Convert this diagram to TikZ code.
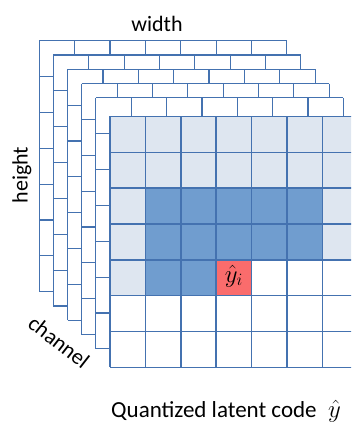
\documentclass[tikz,border=0pt]{standalone}
\usepackage{fontspec}
\setmainfont{Carlito}
\usepackage{xcolor}

\definecolor{gridline}{RGB}{68,114,176}
\definecolor{ctxlight}{RGB}{222,230,240}
\definecolor{ctxdark}{RGB}{112,157,207}
\definecolor{curcell}{RGB}{250,108,108}

\begin{document}
\begin{tikzpicture}[x=1pt,y=-1pt,
  backlayer/.style={draw=gridline,line width=1.1pt},
  frontlayer/.style={draw=gridline,line width=1.5pt},
  lbl/.style={font=\fontsize{22}{26}\selectfont,inner sep=0pt},
  symlbl/.style={font=\fontsize{25}{30}\selectfont,inner sep=0pt}]
  \useasboundingbox (0,0) rectangle (351,422);
  \clip (0,0) rectangle (351,422);
  % channel slices behind the front one
  \foreach \k in {0,...,4} {
    \begin{scope}[shift={(39.3+14.15*\k,40.7+14.3*\k)},x=35.35pt,y=-35.85pt]
      \fill[white] (0,0) rectangle (7,7);
      \foreach \i in {0,...,7} {
        \draw[backlayer] (\i,0) -- (\i,7);
        \draw[backlayer] (0,\i) -- (7,\i);
      }
    \end{scope}
  }
  % front slice with context and current symbol
  \begin{scope}[shift={(110,116.4)},x=35.4pt,y=-35.85pt]
    \fill[white] (0,0) rectangle (7,7);
    \fill[ctxlight] (0,0) rectangle (7,2);
    \fill[ctxlight] (0,2) rectangle (1,5);
    \fill[ctxlight] (6,2) rectangle (7,4);
    \fill[ctxdark] (1,2) rectangle (6,4);
    \fill[ctxdark] (1,4) rectangle (3,5);
    \fill[curcell] (3,4) rectangle (4,5);
    \foreach \i in {0,...,7} {
      \draw[frontlayer] (\i,0) -- (\i,7);
      \draw[frontlayer] (0,\i) -- (7,\i);
    }
    \node[symlbl] (yi) at (3.5,4.45) {$\hat{y}_i$};
  \end{scope}
  \node[lbl] (widthlbl) at (157,24) {width};
  \node[lbl,rotate=90] (heightlbl) at (22,175) {height};
  \node[lbl,rotate=-38] (channellbl) at (59,342) {channel};
  \node[lbl,font=\fontsize{23}{27}\selectfont,anchor=base west] (caption) at (111,417) {Quantized latent code};
  \node[symlbl,anchor=base west] (yhat) at (328,417) {$\hat{y}$};
\end{tikzpicture}
\end{document}
